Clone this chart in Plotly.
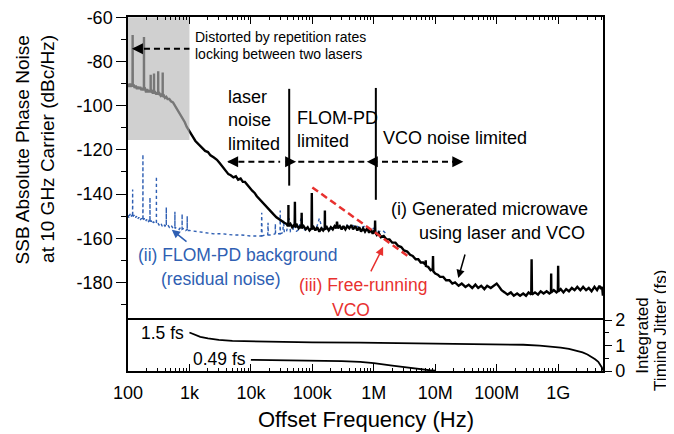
import math
import plotly.graph_objects as go

FONT = "Liberation Sans"

# ---------------- data (offset frequency in Hz, phase noise in dBc/Hz) ----------------
# (i) generated microwave using laser and VCO
black_gray_region = [
    (100, -90), (104, -91.5), (108, -90), (112, -91.5), (116, -90.5), (118.5, -91.5), (119, -68), (119.5, -91.5),
    (124, -90.5), (128, -92), (134, -91), (140, -92.5), (146, -91.5), (152, -92.5), (158, -91.5), (165, -93),
    (172, -92), (178, -93), (181.5, -92.5), (182, -69), (182.5, -93), (190, -92.5), (197, -94), (205, -92.5),
    (214, -94), (222, -93), (230, -94), (233.5, -93.5), (234, -86), (234.5, -94), (245, -93.5), (255, -94.5),
    (262, -93.5), (264.5, -94.5), (265, -85.5), (265.5, -94.5), (278, -94), (290, -95), (300, -94), (309.5, -95),
    (310, -84.5), (310.5, -95), (325, -94.5), (340, -95.5), (352, -95), (366.5, -96), (367, -85), (367.5, -96),
    (385, -95.5), (400, -96.5), (420, -96), (440, -97), (470, -97), (500, -98), (540, -98.5), (580, -100),
    (620, -101), (670, -102.5), (720, -104), (780, -106), (840, -107.5), (900, -109.5), (960, -111),
]
black_rolloff = [
    (1000, -112), (1100, -113.5), (1250, -116), (1400, -117.5), (1600, -119), (1800, -120.5), (2000, -121),
    (2200, -122.5), (2500, -123.5), (2800, -124.5), (3100, -126), (3400, -127.5), (3800, -129.5), (4300, -131),
    (4700, -131.5), (5200, -132.5), (5700, -132), (6200, -133.5), (6800, -133), (7400, -134.5), (8000, -134.5),
    (8700, -136), (9500, -137), (10500, -138.5), (11500, -139.5), (12500, -141), (14000, -142.5), (15500, -144),
    (17000, -145.5), (19000, -146.5), (21000, -148), (23000, -149), (26000, -150.5), (29000, -151.5),
    (32000, -152.5), (35000, -153), (38000, -153.5),
]
black_plateau = [
    (40000, -154.5), (40700, -154), (40800, -145), (40900, -154.5), (44000, -153.5), (47000, -155), (50000, -154),
    (51500, -155), (52000, -143.5), (52500, -155), (56000, -154), (60000, -155.5), (64000, -154.5), (66500, -155.5),
    (67000, -148.5), (67500, -155.5), (72000, -154.5), (78000, -156), (84000, -155), (90000, -156.5), (97000, -155.5),
    (98000, -139.5), (99000, -156), (105000, -155), (112000, -156.5), (120000, -155), (130000, -157), (140000, -155.5),
    (150000, -156.5), (159000, -155.5), (160000, -147.5), (161000, -156), (172000, -155), (185000, -156.5),
    (200000, -155), (215000, -156), (230000, -154.5), (245000, -155.5), (252000, -152.5), (260000, -155.5),
    (280000, -154.5), (300000, -156), (320000, -154.5), (345000, -156), (370000, -154.5), (400000, -155.5),
    (430000, -154), (460000, -156), (500000, -154.5), (540000, -156.5), (580000, -155), (620000, -157),
    (670000, -155.5), (720000, -157), (780000, -155.5), (840000, -157.5), (900000, -156), (960000, -158),
    (1000000, -157), (1040000, -157.5), (1050000, -152), (1060000, -157.5), (1120000, -158.5), (1200000, -157.5),
]
black_vco_region = [
    (1.3e6, -159.5), (1.45e6, -159), (1.6e6, -160.5), (1.8e6, -160.5), (2.0e6, -162), (2.25e6, -162),
    (2.5e6, -163.5), (2.8e6, -164), (3.1e6, -165.5), (3.5e6, -166), (3.9e6, -167.5), (4.3e6, -168),
    (4.8e6, -169.5), (5.3e6, -169.5), (5.8e6, -171), (6.4e6, -171), (6.95e6, -172), (7.0e6, -170),
    (7.05e6, -172.5), (7.7e6, -173), (8.4e6, -174.5), (9.1e6, -174), (9.2e6, -168), (9.3e6, -175),
    (1.0e7, -176),
]
black_floor = [
    (1.1e7, -176.5), (1.2e7, -177.5), (1.35e7, -177.5), (1.5e7, -179), (1.7e7, -179), (1.9e7, -180.5),
    (2.1e7, -180), (2.4e7, -181.5), (2.7e7, -180.5), (3.1e7, -182), (3.5e7, -181), (4.0e7, -182.5),
    (4.5e7, -181), (5.0e7, -182.5), (5.6e7, -181.5), (6.3e7, -183), (7.0e7, -181.5), (8.0e7, -182.5),
    (9.0e7, -181.5), (1.0e8, -180.5), (1.1e8, -182), (1.2e8, -183.5), (1.35e8, -184.5), (1.5e8, -185.5),
    (1.7e8, -184.5), (1.9e8, -186), (2.15e8, -185), (2.4e8, -186), (2.7e8, -185), (3.0e8, -186),
    (3.3e8, -184.5), (3.65e8, -185.5), (3.7e8, -169.5), (3.75e8, -185.5), (4.2e8, -184.5), (4.7e8, -185.5),
    (5.2e8, -184), (5.8e8, -185), (6.5e8, -184), (7.2e8, -185), (7.65e8, -184.5), (7.7e8, -176),
    (7.75e8, -184.5), (8.5e8, -183.5), (9.4e8, -184.5), (9.9e8, -184), (1.0e9, -172.5), (1.01e9, -184),
    (1.1e9, -183), (1.22e9, -184.5), (1.35e9, -183), (1.5e9, -184), (1.67e9, -182.5), (1.85e9, -183.5),
    (2.05e9, -182), (2.3e9, -183.5), (2.55e9, -182), (2.85e9, -183.5), (3.15e9, -182.5), (3.5e9, -184),
    (3.9e9, -182), (4.3e9, -183.5), (4.7e9, -181.5), (5.0e9, -183), (5.2e9, -182), (5.35e9, -186),
]

# (ii) FLOM-PD background (residual noise)
blue_background = [
    (100, -149.5), (104, -151), (108, -149), (112, -150.5), (116, -149.5), (118.5, -150.5), (119, -138), (119.5, -150.5),
    (125, -149.5), (131, -151), (137, -150), (143, -151.5), (150, -150.5), (157, -152), (165, -151), (172, -152),
    (174.5, -151.5), (175, -122), (175.5, -152), (183, -151), (192, -152.5), (201, -151.5), (211, -153), (220, -152),
    (227.5, -152.5), (228, -141.5), (228.5, -153), (238, -152), (249, -153.5), (260, -152.5), (272, -153.5),
    (289.5, -153), (290, -132), (290.5, -153.5), (305, -153), (320, -154), (340, -153), (360, -154.5), (380, -153.5),
    (400, -154.5), (419.5, -154), (420, -146), (420.5, -154.5), (445, -154), (470, -155), (500, -154),
    (540, -155.5), (579.5, -155), (580, -148), (580.5, -155.5), (620, -155), (680, -156), (720, -155),
    (759.5, -156), (760, -149), (760.5, -156), (820, -155.5), (870, -156.5), (919.5, -156), (920, -150),
    (920.5, -156.5), (1000, -156.5), (1300, -157), (1800, -157.5), (2500, -158), (3500, -158), (5000, -158.5),
    (7000, -158.5), (10000, -159), (13000, -159), (14800, -159), (15000, -148.5), (15200, -159), (17000, -158.5),
    (18800, -158.5), (19000, -153), (19200, -158.5), (22000, -158.5), (24800, -158), (25000, -153.5), (25200, -158),
    (28000, -158), (29800, -158), (30000, -147.5), (30200, -158), (33000, -157.5), (34000, -152), (35000, -157.5),
    (38000, -157), (42000, -151), (44000, -157), (48000, -156.5), (52000, -152.5), (55000, -157), (60000, -156),
    (66000, -150.5), (72000, -156.5), (80000, -155.5), (90000, -156.5), (100000, -155), (115000, -156),
    (130000, -151), (145000, -156), (170000, -155), (200000, -156), (240000, -154.5), (290000, -155.5),
    (350000, -154), (420000, -155), (500000, -154), (600000, -155.5), (720000, -154.5), (860000, -156),
    (1000000, -155.5), (1200000, -157), (1400000, -156.5), (1600000, -158),
]

# (iii) free-running VCO (dashed asymptote)
vco_f = [1.0e5, 3.9e6]
vco_db = [-137, -168.8]

# integrated timing jitter (fs)
jitter_a_f = [1000, 1200, 1500, 2000, 3000, 5000, 1e4, 3e4, 1e5, 6e5, 3e6, 2.5e7, 1e8, 2.7e8, 5e8, 8e8,
              1.1e9, 1.5e9, 2e9, 2.5e9, 3e9, 3.5e9, 4e9, 4.5e9, 4.9e9, 5.15e9, 5.3e9]
jitter_a_fs = [1.51, 1.43, 1.34, 1.28, 1.22, 1.18, 1.16, 1.13, 1.12, 1.11, 1.09, 1.07, 1.05, 1.03, 1.0, 0.96,
               0.92, 0.87, 0.8, 0.73, 0.65, 0.56, 0.46, 0.36, 0.25, 0.14, 0.02]
jitter_b_f = [1e4, 3e4, 1e5, 3e5, 6e5, 1e6, 2e6, 3e6, 4.4e6, 6e6, 8e6, 1e7]
jitter_b_fs = [0.44, 0.43, 0.41, 0.39, 0.36, 0.31, 0.21, 0.15, 0.1, 0.06, 0.03, 0.01]

tick_vals = [1e2, 1e3, 1e4, 1e5, 1e6, 1e7, 1e8, 1e9]
tick_text = ["100", "1k", "10k", "100k", "1M", "10M", "100M", "1G"]
noise_tick_vals = [-60, -80, -100, -120, -140, -160, -180]
noise_tick_text = ["-60", "-80", "-100", "-120", "-140", "-160", "-180"]
jitter_tick_vals = [0, 1, 2]

# shaded "distorted" region and region boundaries
shade_f = [100, 1000]
shade_db = [-60, -115.5]
boundary_f = [4.2e4, 1.08e6]
boundary_top = [-92.4, -92.0]
boundary_bottom = [-136.2, -142.6]

# ---------------- build ----------------
black_pts = black_gray_region + black_rolloff + black_plateau + black_vco_region + black_floor
black_f = [p[0] for p in black_pts]
black_db = [p[1] for p in black_pts]
blue_f = [p[0] for p in blue_background]
blue_db = [p[1] for p in blue_background]

BLUE = "#2f5fb3"
RED = "#e8312f"
X_MAX = 9.73

fig = go.Figure()

fig.add_trace(go.Scatter(x=blue_f, y=blue_db, mode="lines",
                         line=dict(color=BLUE, width=1.4, dash="dot"), xaxis="x", yaxis="y"))
fig.add_trace(go.Scatter(x=black_f, y=black_db, mode="lines",
                         line=dict(color="black", width=2.4), xaxis="x", yaxis="y"))
fig.add_trace(go.Scatter(x=vco_f, y=vco_db, mode="lines",
                         line=dict(color=RED, width=2.5, dash="7px,4px"), xaxis="x", yaxis="y"))
# shaded region on top of the curve
fig.add_trace(go.Scatter(x=[shade_f[0], shade_f[1], shade_f[1], shade_f[0], shade_f[0]],
                         y=[shade_db[0], shade_db[0], shade_db[1], shade_db[1], shade_db[0]],
                         mode="lines", fill="toself", fillcolor="rgba(183,183,183,0.65)",
                         line=dict(width=0), xaxis="x", yaxis="y"))
# region boundaries
for bf, bt, bb in zip(boundary_f, boundary_top, boundary_bottom):
    fig.add_trace(go.Scatter(x=[bf, bf], y=[bt, bb], mode="lines",
                             line=dict(color="black", width=2), xaxis="x", yaxis="y"))

# dashed arrow shafts (Hz endpoints, dB level)
dash_shafts = [
    ((125, 1000), -74.3),
    ((4.3e3, 2.99e4), -125.4),
    ((5.9e4, 7.1e5), -125.4),
    ((1.36e6, 2.6e7), -125.4),
]
for (fa, fb), lev in dash_shafts:
    fig.add_trace(go.Scatter(x=[fa, fb], y=[lev, lev], mode="lines",
                             line=dict(color="black", width=2, dash="6px,4px"), xaxis="x", yaxis="y"))

# bottom panel jitter curves
fig.add_trace(go.Scatter(x=jitter_a_f, y=jitter_a_fs, mode="lines",
                         line=dict(color="black", width=1.8), xaxis="x2", yaxis="y2"))
fig.add_trace(go.Scatter(x=jitter_b_f, y=jitter_b_fs, mode="lines",
                         line=dict(color="black", width=1.8), xaxis="x2", yaxis="y2"))

lx = math.log10
ann = []


def label(text, f, v, size=18, color="black", xanchor="left", yanchor="middle",
          xref="x", yref="y", align="left"):
    ann.append(dict(text=text, x=lx(f), y=v, xref=xref, yref=yref, xanchor=xanchor,
                    yanchor=yanchor, showarrow=False, align=align,
                    font=dict(family=FONT, size=size, color=color)))


def arrow(f_head, v_head, f_tail, v_tail, color, width=1.5):
    ann.append(dict(text="", x=lx(f_head), y=v_head, ax=lx(f_tail), ay=v_tail,
                    xref="x", yref="y", axref="x", ayref="y", showarrow=True,
                    arrowhead=2, arrowsize=1.1, arrowwidth=width, arrowcolor=color, standoff=0))


def head(f, v, dx):
    ann.append(dict(text="", x=lx(f), y=v, ax=dx, ay=0, xref="x", yref="y", showarrow=True,
                    arrowhead=2, arrowsize=1.1, arrowwidth=2, arrowcolor="black", standoff=0))


label("Distorted by repetition rates", 1.15e3, -68.8, size=14)
label("locking between two lasers", 1.15e3, -76.5, size=14)
head(116, -74.3, 12)
label("laser<br>noise<br>limited", 4.0e3, -106.9, size=18)
head(4.1e3, -125.4, 12)
label("FLOM-PD<br>limited", 5.3e4, -111.0, size=18)
head(5.45e4, -125.4, -12)
head(7.7e5, -125.4, 12)
label("VCO noise limited", 1.33e6, -114.6, size=18)
head(2.86e7, -125.4, -12)
label("(i) Generated microwave", 1.8e6, -146.7, size=18)
label("using laser and VCO", 5.0e6, -157.6, size=18)
arrow(2.37e7, -178.0, 3.1e7, -166.7, "black")
label("(ii) FLOM-PD background", 5.96e3, -167.6, size=17.5, color=BLUE, xanchor="center")
label("(residual noise)", 3.27e3, -178.4, size=17.5, color=BLUE, xanchor="center")
arrow(516, -156.2, 948, -162.1, BLUE)
label("(iii) Free-running", 6.71e5, -181.2, size=17.5, color=RED, xanchor="center")
label("VCO", 4.29e5, -192.5, size=17.5, color=RED, xanchor="center")
arrow(1.42e6, -163.9, 8.71e5, -175.7, RED)
label("1.5 fs", 8.8e2, 1.48, size=17.5, xanchor="right", xref="x2", yref="y2")
label("0.49 fs", 9.0e3, 0.49, size=17.5, xanchor="right", xref="x2", yref="y2")

# axis titles
ann.append(dict(text="Offset Frequency (Hz)", x=0.5, y=-0.136, xref="paper", yref="paper",
                xanchor="center", yanchor="middle", showarrow=False,
                font=dict(family=FONT, size=22, color="black")))
ann.append(dict(text="SSB Absolute Phase Noise", x=-0.2232, y=0.955, xref="paper", yref="paper",
                xanchor="center", yanchor="top", textangle=-90, showarrow=False,
                font=dict(family=FONT, size=19, color="black")))
ann.append(dict(text="at 10 GHz Carrier (dBc/Hz)", x=-0.1684, y=0.955, xref="paper", yref="paper",
                xanchor="center", yanchor="top", textangle=-90, showarrow=False,
                font=dict(family=FONT, size=19, color="black")))
ann.append(dict(text="Integrated", x=1.084, y=0.102, xref="paper", yref="paper",
                xanchor="center", yanchor="middle", textangle=-90, showarrow=False,
                font=dict(family=FONT, size=17, color="black")))
ann.append(dict(text="Timing Jitter (fs)", x=1.122, y=0.116, xref="paper", yref="paper",
                xanchor="center", yanchor="middle", textangle=-90, showarrow=False,
                font=dict(family=FONT, size=17, color="black")))

minor_vals = [m * 10 ** e for e in range(2, 10) for m in range(2, 10) if m * 10 ** e <= 10 ** X_MAX]

common_x = dict(type="log", range=[2, X_MAX], showgrid=False, zeroline=False, automargin=False,
                showline=True, linecolor="black", linewidth=1.5,
                tickmode="array", tickvals=tick_vals, ticks="inside", ticklen=7,
                tickwidth=1.3, tickcolor="black",
                minor=dict(tickmode="array", tickvals=minor_vals, ticks="inside",
                           ticklen=3.5, tickwidth=1.1, tickcolor="black", showgrid=False))

SPLIT = 0.144
# the page body adds an 8 px offset, so the figure is 8 px smaller and margins compensate
fig.update_layout(
    width=666, height=426,
    margin=dict(l=120, r=71, t=9, b=63, autoexpand=False),
    paper_bgcolor="white", plot_bgcolor="white",
    showlegend=False, hovermode=False,
    font=dict(family=FONT, size=18, color="black"),
    xaxis=dict(common_x, domain=[0, 1], anchor="y", side="top", showticklabels=False, mirror=False),
    yaxis=dict(domain=[SPLIT, 1], range=[-197, -59.9], anchor="x", automargin=False,
               tickmode="array", tickvals=noise_tick_vals, ticktext=noise_tick_text,
               ticklabeloverflow="allow",
               ticks="outside", ticklen=10, tickwidth=1.3, tickcolor="black",
               showline=True, linecolor="black", linewidth=1.5, mirror=True,
               showgrid=False, zeroline=False,
               tickfont=dict(family=FONT, size=18, color="black"),
               minor=dict(dtick=10, tick0=0, ticks="outside", ticklen=5, tickwidth=1.1,
                          tickcolor="black", showgrid=False)),
    xaxis2=dict(common_x, domain=[0, 1], anchor="y2", side="bottom", ticktext=tick_text, mirror=True,
                ticklabelstandoff=5,
                tickfont=dict(family=FONT, size=18, color="black")),
    yaxis2=dict(domain=[0, SPLIT], range=[0, 2.001], anchor="x2", side="right", automargin=False,
                tickmode="array", tickvals=jitter_tick_vals, ticks="outside", ticklen=7,
                tickwidth=1.3, tickcolor="black",
                showline=True, linecolor="black", linewidth=1.5, mirror=True,
                showgrid=False, zeroline=False,
                tickfont=dict(family=FONT, size=18, color="black"),
                minor=dict(tickmode="array", tickvals=[0.5, 1.5], ticks="outside", ticklen=4,
                           tickwidth=1.1, tickcolor="black", showgrid=False)),
    annotations=ann,
)

fig.write_html("out.html")
